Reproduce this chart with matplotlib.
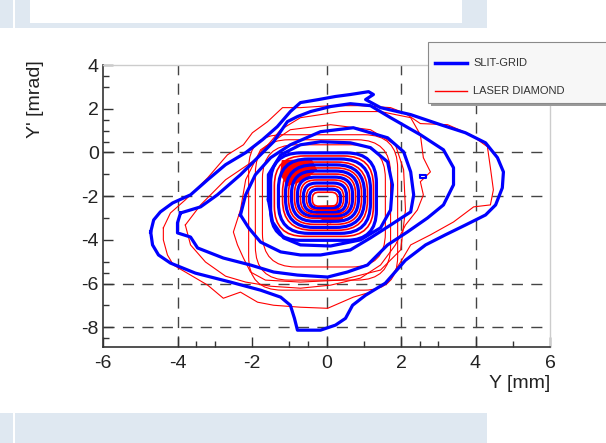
import numpy as np
import matplotlib
matplotlib.use('Agg')
import matplotlib.pyplot as plt
from matplotlib.patches import Rectangle, FancyBboxPatch, Polygon
from matplotlib.lines import Line2D

plt.rcParams['font.family'] = ['Liberation Sans', 'DejaVu Sans']
plt.rcParams['axes.unicode_minus'] = False

# ---- data (Y in mm, Y' in mrad) ----
slit_b1 = [(-4.72, -3.64), (-4.64, -3.09), (-4.46, -2.72), (-4.13, -2.31), (-3.65, -1.94),
           (-3.19, -1.25), (-2.71, -0.56), (-2.17, -0.01), (-1.72, 0.58), (-1.32, 1.18),
           (-0.97, 1.87), (-0.70, 2.28), (-0.21, 2.42), (0.24, 2.56), (0.64, 2.65),
           (1.13, 2.78), (1.26, 2.65), (1.05, 2.42), (1.45, 2.05), (2.26, 1.73),
           (3.06, 1.27), (3.73, 0.90), (4.27, 0.44), (4.59, -0.24), (4.75, -0.89),
           (4.72, -1.62), (4.54, -2.40), (4.27, -2.86), (3.73, -3.32), (3.19, -3.77),
           (2.66, -4.23), (2.12, -4.93), (1.58, -5.98), (1.05, -6.53), (0.70, -6.99),
           (0.51, -7.59), (0.24, -7.90), (-0.16, -8.13), (-0.78, -8.13), (-0.86, -7.59),
           (-0.97, -6.99), (-1.23, -6.62), (-1.77, -6.30), (-2.58, -5.93), (-3.52, -5.52),
           (-4.19, -5.06), (-4.51, -4.69), (-4.67, -4.23)]
slit_b2 = [(-3.92, -2.77), (-4.00, -3.22), (-4.00, -3.68), (-3.65, -3.87), (-3.46, -4.37),
           (-2.77, -4.83), (-2.04, -5.15), (-1.42, -5.47), (-0.78, -5.61), (0.03, -5.70),
           (0.56, -5.47), (1.10, -5.15), (1.64, -4.23), (2.17, -3.64), (2.71, -3.00),
           (3.14, -2.40), (3.41, -1.48), (3.41, -0.70), (3.14, 0.12), (2.52, 0.81),
           (1.72, 1.59), (1.18, 2.14), (0.64, 2.23), (0.11, 2.10), (-0.43, 1.87),
           (-0.78, 1.64), (-1.05, 1.41), (-1.42, 0.49), (-1.85, -0.24), (-2.31, -1.02),
           (-2.93, -1.94), (-3.38, -2.49)]
slit_b3 = [(-2.31, -2.86), (-2.17, -1.94), (-1.91, -1.02), (-1.50, -0.24), (-0.97, 0.35),
           (-0.16, 0.95), (0.72, 1.13), (1.64, 0.67), (2.07, 0.03), (2.26, -0.89),
           (2.34, -1.94), (2.26, -2.72), (1.72, -3.32), (1.18, -3.91), (0.64, -4.46),
           (-0.16, -4.69), (-0.70, -4.69), (-1.23, -4.55), (-1.77, -4.10), (-2.09, -3.45)]
slit_b4 = [(-1.56, -2.17), (-1.56, -1.02), (-1.23, -0.11), (-0.70, 0.35), (-0.16, 0.49),
           (0.64, 0.44), (1.18, 0.22), (1.64, -0.43), (1.77, -1.48), (1.72, -2.63),
           (1.45, -3.45), (0.91, -4.00), (0.11, -4.28), (-0.70, -4.23), (-1.15, -3.91),
           (-1.45, -3.18)]
slit_island = [(2.52, -1.02), (2.68, -1.02), (2.68, -1.16), (2.52, -1.16)]

laser_r1 = [(-4.38, -3.45), (-4.19, -2.77), (-3.79, -2.17), (-3.19, -1.16), (-2.66, -0.11),
            (-2.23, 0.35), (-1.99, 0.90), (-1.58, 1.41), (-1.18, 2.05), (-0.70, 2.05),
            (0.11, 2.14), (0.91, 2.14), (1.72, 2.05), (2.12, 1.78), (2.52, 1.32),
            (3.25, 1.27), (3.87, 0.81), (4.32, 0.26), (4.40, -0.70), (4.48, -1.71),
            (4.40, -2.40), (3.95, -2.49), (3.41, -3.18), (2.79, -3.77), (2.26, -4.23),
            (1.99, -5.01), (1.64, -5.93), (1.18, -6.39), (0.72, -6.62), (0.03, -7.13),
            (-0.70, -7.08), (-1.42, -6.99), (-1.85, -6.85), (-2.31, -6.39), (-2.77, -6.67),
            (-3.19, -6.07), (-3.79, -5.47), (-4.11, -5.15), (-4.27, -4.69), (-4.38, -4.00)]
laser_r2 = [(-3.79, -3.32), (-3.38, -2.40), (-2.71, -1.25), (-1.91, -0.33), (-1.23, 1.04),
            (-0.70, 1.59), (0.38, 1.87), (1.45, 1.87), (2.26, 1.59), (2.52, 0.81),
            (2.60, -0.24), (2.79, -0.89), (2.52, -1.34), (2.60, -1.94), (2.44, -2.63),
            (2.12, -3.32), (1.85, -4.23), (1.45, -5.15), (0.91, -5.75), (0.11, -6.07),
            (-0.70, -6.21), (-1.50, -6.12), (-2.17, -5.93), (-2.71, -5.66), (-3.25, -5.01),
            (-3.65, -4.23)]
laser_r3 = [(-2.31, -2.63), (-2.50, -3.64), (-2.39, -4.23), (-2.23, -4.83), (-2.04, -5.47),
            (-1.64, -5.84), (-0.70, -5.93), (0.38, -5.84), (1.45, -5.38), (1.99, -4.46),
            (2.12, -2.63), (2.07, -0.79), (1.85, 0.35), (1.18, 1.04), (0.11, 1.27),
            (-0.97, 1.04), (-1.77, 0.12), (-2.17, -1.25)]
# dense red spots inside the core
laser_spot1 = [(-1.20, -0.35), (-0.40, -0.30), (-0.25, -0.80), (-0.60, -1.30), (-1.05, -1.55),
               (-1.25, -1.00)]
laser_spot2 = [(-0.25, -2.45), (0.30, -2.40), (0.45, -3.05), (0.10, -3.25), (-0.30, -2.95)]

# inner rings: (Y min, Y max, Y' min, Y' max)
laser_rings = [(-2.09, 1.91, -6.30, 0.81), (-1.91, 1.72, -5.84, 0.58), (-1.72, 1.58, -5.24, 0.35)]
core_rings = [(-1.50, 1.34, -4.02, -0.02), (-1.40, 1.26, -3.84, -0.16), (-1.29, 1.18, -3.70, -0.30),
              (-1.18, 1.10, -3.56, -0.44), (-1.10, 1.02, -3.43, -0.57), (-1.02, 0.94, -3.29, -0.71),
              (-0.94, 0.86, -3.15, -0.85), (-0.86, 0.78, -3.01, -0.99), (-0.78, 0.70, -2.92, -1.13),
              (-0.70, 0.62, -2.83, -1.26), (-0.62, 0.54, -2.74, -1.40), (-0.54, 0.46, -2.64, -1.54),
              (-0.46, 0.38, -2.55, -1.68), (-0.38, 0.30, -2.46, -1.82)]
core_kind = ['slit', 'laser'] * 7

grid_x = [-4, 0, 2, 4]
grid_y = [0, -2, -6, -8]
xticks = [-6, -4, -2, 0, 2, 4, 6]
yticks = [4, 2, 0, -2, -4, -6, -8]
xminor = [-3.5, -3.0, -1.0, -0.5, 1.0, 2.5, 3.0, 5.0]
yminor = [3.5, 3.0, 1.5, 1.0, 0.5, -1.0, -3.0, -5.0, -5.5, -7.0, -8.5]

BLUE = '#0000ff'
RED = '#ff0000'
lw_b = 2.3
lw_r = 0.8
W, H = 606, 443

fig = plt.figure(figsize=(W / 100, H / 100), dpi=100)

# page background bands
def px_rect(x0, y0, x1, y1, **kw):
    fig.add_artist(Rectangle((x0 / W, 1 - y1 / H), (x1 - x0) / W, (y1 - y0) / H,
                             transform=fig.transFigure, **kw))

px_rect(0, 0, 487, 28, facecolor='#dfe8f1', edgecolor='none')
px_rect(13, 0, 15, 28, facecolor='white', edgecolor='none')
px_rect(30, 0, 462, 23, facecolor='white', edgecolor='none')
px_rect(0, 413, 487, 443, facecolor='#dfe8f1', edgecolor='none')
px_rect(13, 413, 15, 443, facecolor='white', edgecolor='none')

ax = fig.add_axes([103 / W, 1 - 347 / H, 447 / W, 282 / H])
ax.set_xlim(-6, 6)
ax.set_ylim(-8.9, 4)

for gx in grid_x:
    ax.axvline(gx, color='#444444', lw=1.0, dashes=(8, 6), zorder=1)
for gy in grid_y:
    ax.axhline(gy, color='#444444', lw=1.0, dashes=(8, 6), zorder=1)

def draw_line(pts, color, lw, z=3):
    p = np.array(pts + [pts[0]])
    ax.plot(p[:, 0], p[:, 1], color=color, lw=lw, solid_joinstyle='round', zorder=z)

asp = 37.25 / 21.8
def draw_ring(r, color, lw, rmax=0.8, z=3):
    x0, x1, y0, y1 = r
    w, h = x1 - x0, y1 - y0
    rs = min(rmax, w * 0.45, h * 0.45 / asp)
    ax.add_patch(FancyBboxPatch((x0, y0), w, h, boxstyle='round,pad=0,rounding_size=%.3f' % rs,
                                mutation_aspect=asp, facecolor='none', edgecolor=color,
                                lw=lw, zorder=z))

for c in [laser_r1, laser_r2, laser_r3]:
    draw_line(c, RED, lw_r)
for r in laser_rings:
    draw_ring(r, RED, lw_r, rmax=0.9)
for c in [slit_b1, slit_b2, slit_b3, slit_b4]:
    draw_line(c, BLUE, lw_b)
draw_line(slit_island, BLUE, 1.5)
for s in [laser_spot1, laser_spot2]:
    ax.add_patch(Polygon(s, closed=True, facecolor=RED, edgecolor='none', zorder=2.8))
for r, k in zip(core_rings, core_kind):
    if k == 'slit':
        draw_ring(r, BLUE, lw_b)
    else:
        draw_ring(r, RED, lw_r + 0.4, z=4)

ax.set_xticks(xticks)
ax.set_yticks(yticks)
ax.set_xticks(xminor, minor=True)
ax.set_yticks(yminor, minor=True)
ax.tick_params(which='major', direction='in', length=7, width=1, colors='#333333',
               labelsize=14, labelcolor='#222222', top=False, right=False)
ax.tick_params(which='minor', direction='in', length=4, width=1, colors='#333333',
               top=False, right=False)
ax.tick_params(axis='x', pad=6)
ax.tick_params(axis='y', pad=3)
for s in ['left', 'bottom']:
    ax.spines[s].set_color('#333333')
    ax.spines[s].set_linewidth(1.2)
for s in ['top', 'right']:
    ax.spines[s].set_color('#cccccc')
    ax.spines[s].set_linewidth(1.0)

fig.text(550 / W, 1 - 383 / H, 'Y [mm]', ha='right', va='center', fontsize=14, color='#222222')
fig.text(35 / W, 1 - 60 / H, "Y' [mrad]", ha='center', va='top', rotation=90,
         fontsize=14, color='#222222')

# legend box
px_rect(431, 45, 612, 106, facecolor='#9a9a9a', edgecolor='none')
px_rect(428, 42, 610, 103, facecolor='#f7f7f7', edgecolor='#8a8a8a', lw=0.8)
fig.add_artist(Line2D([435 / W, 467 / W], [1 - 63 / H, 1 - 63 / H], color=BLUE, lw=2.5,
                      transform=fig.transFigure))
fig.add_artist(Line2D([435 / W, 467 / W], [1 - 91 / H, 1 - 91 / H], color=RED, lw=1.0,
                      transform=fig.transFigure))
fig.text(473 / W, 1 - 63 / H, 'SLIT-GRID', ha='left', va='center', fontsize=8, color='#333333')
fig.text(473 / W, 1 - 91 / H, 'LASER DIAMOND', ha='left', va='center', fontsize=8, color='#333333')

fig.savefig('out.png', dpi=100)
